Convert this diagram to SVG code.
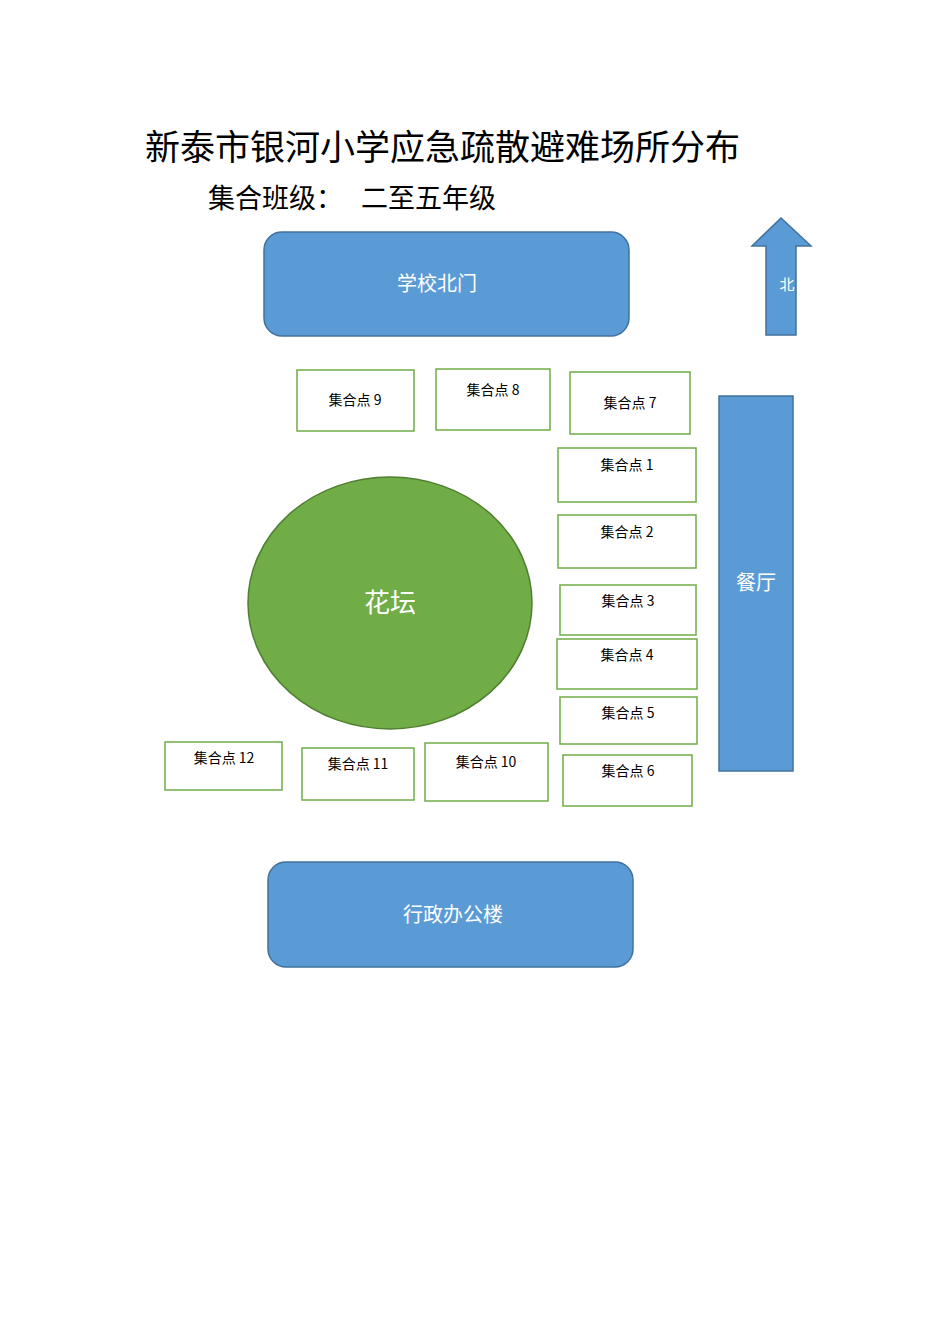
<svg xmlns="http://www.w3.org/2000/svg" width="950" height="1344" viewBox="0 0 950 1344">
<style>
text{font-family:"Noto Sans CJK SC","Liberation Sans",sans-serif}
.b{fill:#5b9bd5;stroke:#41719c;stroke-width:1.5}
.bt{fill:#fff;font-size:20px;text-anchor:middle}
.g{fill:#fff;stroke:#70ad47;stroke-width:1.5}
.gt{fill:#000;font-size:14px;text-anchor:middle}
</style>
<rect width="950" height="1344" fill="#fff"/>
<text x="145" y="160" font-size="35" fill="#000">新泰市银河小学应急疏散避难场所分布</text>
<text x="208" y="208" font-size="27" fill="#000">集合班级：</text>
<text x="361" y="208" font-size="27" fill="#000">二至五年级</text>
<g id="north-gate"><rect class="b" x="264" y="232" width="365" height="104" rx="18"/><text class="bt" x="437" y="291">学校北门</text></g>
<g id="office"><rect class="b" x="268" y="862" width="365" height="105" rx="18"/><text class="bt" x="453" y="922">行政办公楼</text></g>
<g id="canteen"><rect class="b" x="719" y="396" width="74" height="375"/><text class="bt" x="756" y="590">餐厅</text></g>
<g id="north-arrow"><polygon class="b" points="781,218 811,246 796,246 796,335 766,335 766,246 752,246"/><text x="787" y="290" font-size="15" fill="#fff" text-anchor="middle">北</text></g>
<g id="flowerbed"><ellipse cx="390" cy="603" rx="142" ry="126" fill="#70ad47" stroke="#507e32" stroke-width="1.5"/><text x="390" y="612" font-size="26" fill="#fff" text-anchor="middle">花坛</text></g>
<g id="p9"><rect class="g" x="297" y="370" width="117" height="61"/><text class="gt" x="355" y="405">集合点 9</text></g>
<g id="p8"><rect class="g" x="436" y="369" width="114" height="61"/><text class="gt" x="493" y="395">集合点 8</text></g>
<g id="p7"><rect class="g" x="570" y="372" width="120" height="62"/><text class="gt" x="630" y="408">集合点 7</text></g>
<g id="p1"><rect class="g" x="558" y="448" width="138" height="54"/><text class="gt" x="627" y="470">集合点 1</text></g>
<g id="p2"><rect class="g" x="558" y="515" width="138" height="53"/><text class="gt" x="627" y="537">集合点 2</text></g>
<g id="p3"><rect class="g" x="560" y="585" width="136" height="50"/><text class="gt" x="628" y="606">集合点 3</text></g>
<g id="p4"><rect class="g" x="557" y="639" width="140" height="50"/><text class="gt" x="627" y="660">集合点 4</text></g>
<g id="p5"><rect class="g" x="560" y="697" width="137" height="47"/><text class="gt" x="628" y="718">集合点 5</text></g>
<g id="p6"><rect class="g" x="563" y="755" width="129" height="51"/><text class="gt" x="628" y="776">集合点 6</text></g>
<g id="p12"><rect class="g" x="165" y="742" width="117" height="48"/><text class="gt" x="224" y="763">集合点 12</text></g>
<g id="p11"><rect class="g" x="302" y="748" width="112" height="52"/><text class="gt" x="358" y="769">集合点 11</text></g>
<g id="p10"><rect class="g" x="425" y="743" width="123" height="58"/><text class="gt" x="486" y="767">集合点 10</text></g>
<g id="connectors"/>
</svg>
